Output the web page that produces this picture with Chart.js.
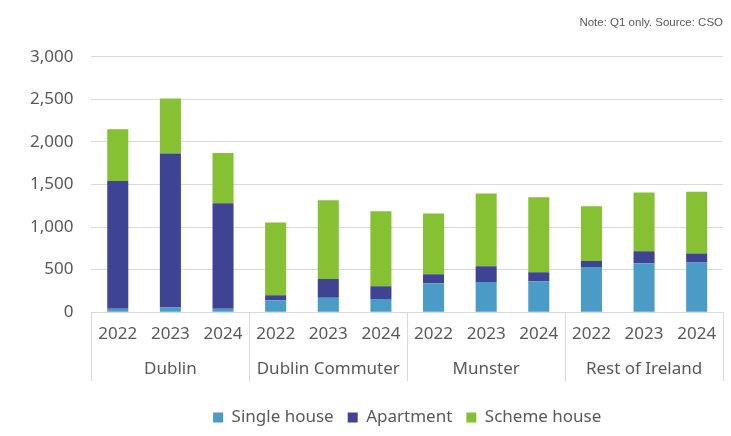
<!DOCTYPE html>
<html>
<head>
<meta charset="utf-8">
<script src="https://cdn.jsdelivr.net/npm/chart.js@4/dist/chart.umd.min.js"></script>
<style>
  html, body { margin: 0; padding: 0; background: #fff; }
  #wrap { width: 731px; height: 436px; }
</style>
</head>
<body>
<div id="wrap"><canvas id="housingChart"></canvas></div>
<script>
// categories: year inside each region
const years = ['2022', '2023', '2024', '2022', '2023', '2024', '2022', '2023', '2024', '2022', '2023', '2024'];
const regions = ['Dublin', 'Dublin Commuter', 'Munster', 'Rest of Ireland'];

// series values
const singleHouse = [40, 55, 40, 140, 170, 155, 340, 355, 365, 530, 575, 585];
const apartment = [1500, 1810, 1240, 60, 220, 150, 105, 185, 105, 70, 140, 105];
const schemeHouse = [610, 645, 590, 855, 925, 880, 715, 855, 880, 645, 690, 725];

const yTicks = [0, 500, 1000, 1500, 2000, 2500, 3000];

const fontFamily = '"Noto Sans", sans-serif';
const gray = '#595959';
const gridGray = '#d9d9d9';
const legendGap = 14; // extra room between the region labels and the legend

//plugin to draw the separators between the regions below the axis.
const regionSeparators = {
    id: 'regionSeparators',
    afterDraw(chart) {
        const ctx = chart.ctx;
        const x = chart.scales.x;
        const x2 = chart.scales.x2;
        const slot = x.getPixelForValue(1) - x.getPixelForValue(0);
        ctx.save();
        ctx.strokeStyle = gridGray;
        ctx.lineWidth = 1;
        for (let i = 0; i <= years.length; i += 3) {
            const px = Math.round(x.getPixelForValue(0) - slot / 2 + i * slot) + 0.5;
            ctx.beginPath();
            ctx.moveTo(px, chart.chartArea.bottom);
            ctx.lineTo(px, x2.bottom - legendGap);
            ctx.stroke();
        }
        ctx.restore();
    }
};

new Chart('housingChart', {
    type: 'bar',
    data: {
        labels: years,
        datasets: [
            { label: 'Single house', data: singleHouse, backgroundColor: '#4a9cc7' },
            { label: 'Apartment', data: apartment, backgroundColor: '#3e4394' },
            { label: 'Scheme house', data: schemeHouse, backgroundColor: '#85c133' }
        ]
    },
    options: {
        responsive: true,
        maintainAspectRatio: false,
        animation: false,
        datasets: { bar: { categoryPercentage: 0.8, barPercentage: 0.5 } },
        layout: { padding: { left: 12, right: 8, top: 0, bottom: 0 } },
        plugins: {
            title: {
                display: true,
                text: 'Note: Q1 only. Source: CSO',
                align: 'end',
                color: gray,
                font: { family: '"Liberation Sans", Arial, sans-serif', size: 11.5, weight: 'normal' },
                padding: { top: 16, bottom: 27 }
            },
            legend: {
                position: 'bottom',
                fullSize: false,
                labels: {
                    color: gray,
                    font: { family: fontFamily, size: 17 },
                    boxWidth: 10,
                    boxHeight: 10,
                    padding: 14
                }
            },
            tooltip: { enabled: false }
        },
        scales: {
            x: {
                stacked: true,
                grid: { display: false },
                border: { display: false },
                ticks: { color: gray, font: { family: fontFamily, size: 17 }, padding: 4, maxRotation: 0, autoSkip: false }
            },
            x2: {
                type: 'category',
                labels: regions,
                position: 'bottom',
                offset: true,
                grid: { display: false },
                border: { display: false },
                ticks: { color: gray, font: { family: fontFamily, size: 17 }, padding: 2 },
                afterFit(scale) { scale.height += legendGap; }
            },
            y: {
                stacked: true,
                min: 0,
                max: 3000,
                afterBuildTicks(scale) {
                    scale.ticks = yTicks.map(v => ({ value: v }));
                },
                grid: { color: gridGray, drawTicks: false },
                border: { display: false },
                ticks: {
                    color: gray,
                    font: { family: fontFamily, size: 17 },
                    padding: 18,
                    callback: v => v.toLocaleString('en-US')
                }
            }
        }
    },
    plugins: [regionSeparators]
});
</script>
</body>
</html>
